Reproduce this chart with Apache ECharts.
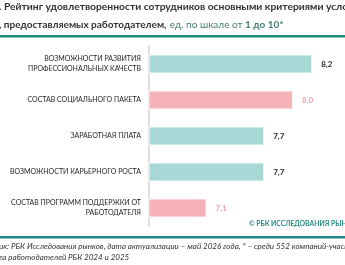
<!DOCTYPE html>
<html lang="ru">
<head>
<meta charset="UTF-8">
<title>rating</title>
<script src="https://cdn.jsdelivr.net/npm/echarts@6/dist/echarts.min.js"></script>
<style>html,body{margin:0;padding:0;background:#fff;}</style>
</head>
<body>
<div id="main" style="width:345px;height:265px;"></div>
<script>
// категории (сверху вниз)
var categories = [
    'ВОЗМОЖНОСТИ РАЗВИТИЯ\nПРОФЕССИОНАЛЬНЫХ КАЧЕСТВ',
    'СОСТАВ СОЦИАЛЬНОГО ПАКЕТА',
    'ЗАРАБОТНАЯ ПЛАТА',
    'ВОЗМОЖНОСТИ КАРЬЕРНОГО РОСТА',
    'СОСТАВ ПРОГРАММ ПОДДЕРЖКИ ОТ\nРАБОТОДАТЕЛЯ'
];
var values = [8.2, 8.0, 7.7, 7.7, 7.1];
var highlight = [false, true, false, false, true]; // розовые столбцы

var titleLine1 = '. Рейтинг удовлетворенности сотрудников основными критериями усло';
var titleLine2 = ', предоставляемых работодателем,';
var titleUnit = 'ед. по шкале от ';
var titleScale = '1 до 10*';
var source1 = 'ик: РБК Исследования рынков, дата актуализации – май 2026 года, * – среди 552 компаний-участн';
var source2 = 'га работодателей РБК 2024 и 2025';
var copyright = '© РБК ИССЛЕДОВАНИЯ РЫН';

var teal = '#a9d9d7', pink = '#f7b1b9', dark = '#2b2b2b', green = '#1f8a80';
var font = 'Lato';

var chart = echarts.init(document.getElementById('main'));

var barData = values.map(function (v, i) {
    var hl = highlight[i];
    return {
        value: v,
        itemStyle: { color: hl ? pink : teal },
        label: { color: hl ? '#f4a2ad' : dark }
    };
});

var option = {
    animation: false,
    grid: { left: 149, top: 46, width: 192, height: 180 },
    xAxis: {
        type: 'value', min: 6.5, max: 8.5, show: false
    },
    yAxis: {
        type: 'category', inverse: true, data: categories,
        axisLine: { show: true, lineStyle: { color: '#d6d6d6', width: 1.5 } },
        axisTick: { show: false },
        axisLabel: { fontFamily: font, fontSize: 7, color: '#1e1e1e', margin: 8, lineHeight: 10, align: 'right' }
    },
    series: [{
        type: 'bar', barWidth: 19, data: barData,
        itemStyle: { borderColor: 'rgba(255,255,255,0.8)', borderWidth: 1 },
        label: {
            show: true, position: 'right', distance: 9,
            fontFamily: font, fontSize: 8, fontWeight: 'bold',
            formatter: function (p) { return p.value.toFixed(1).replace('.', ','); }
        }
    }],
    graphic: [
        { type: 'text', left: -1, top: 2, style: { text: titleLine1, font: 'bold 10.3px ' + font, fill: '#333' } },
        { type: 'text', left: -1, top: 19, style: {
            text: '{b|' + titleLine2 + '} {u|' + titleUnit + '}{s|' + titleScale + '}',
            rich: {
                b: { font: 'bold 10px ' + font, fill: '#333' },
                u: { font: '10px ' + font, fill: '#467d77' },
                s: { font: 'bold 10px ' + font, fill: '#467d77' }
            }
        } },
        { type: 'rect', shape: { x: 0, y: 35, width: 345, height: 2.5 }, style: { fill: green } },
        { type: 'text', left: 249, top: 220, style: { text: copyright, font: 'bold 6.8px ' + font, fill: '#2a8a84' } },
        { type: 'rect', shape: { x: 0, y: 236, width: 345, height: 2.5 }, style: { fill: green } },
        { type: 'text', left: -1, top: 242, style: { text: source1, font: 'italic 8px ' + font, fill: '#333' } },
        { type: 'text', left: -1, top: 253, style: { text: source2, font: 'italic 8px ' + font, fill: '#333' } }
    ]
};

chart.setOption(option);
</script>
</body>
</html>
